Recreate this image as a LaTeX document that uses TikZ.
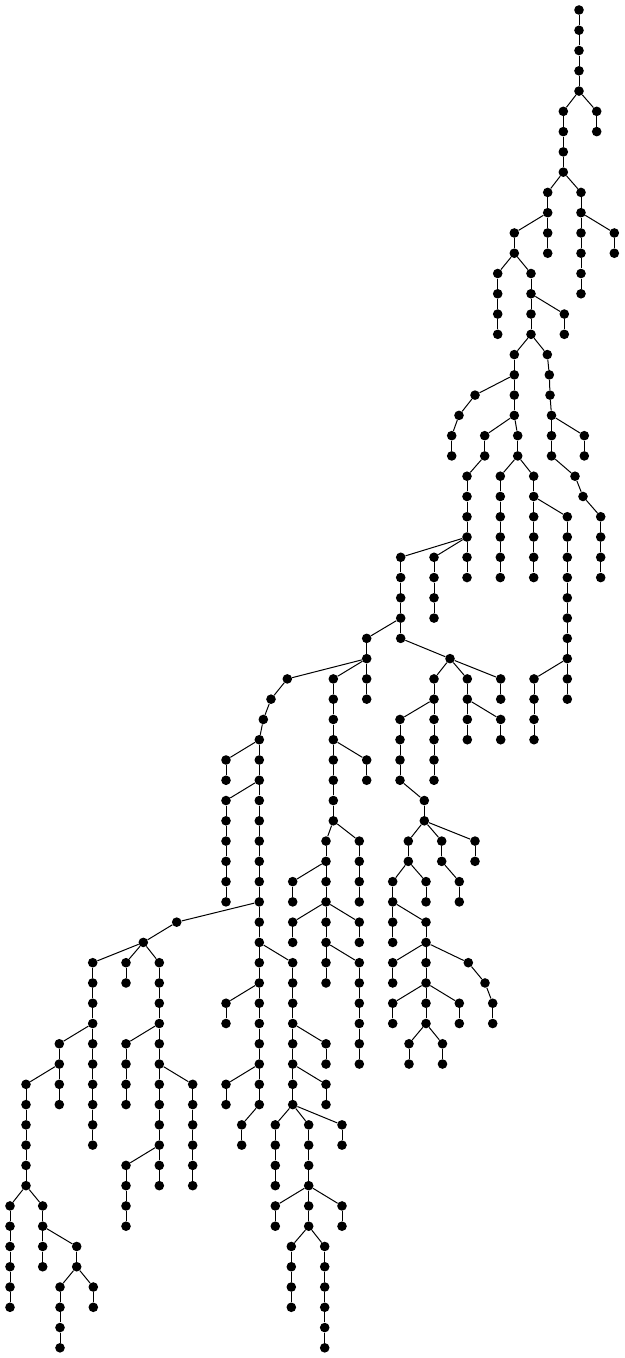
\documentclass[tikz,border=0pt]{standalone}
\newcommand\chn[4]{%
  \foreach \lv in {#3,...,#4}{\node[dot] (#1-\lv) at (#2,\lv) {};}%
  \foreach \lv in {#3,...,#4}{\ifnum\lv>#3\relax\pgfmathtruncatemacro\pv{\lv-1}\draw[edge] (#1-\pv) -- (#1-\lv);\fi}%
}
\begin{document}
\begin{tikzpicture}[x=0.75pt,y=-15.2025pt,
  dot/.style={circle,fill=black,draw=none,inner sep=0pt,minimum size=7.2pt},
  edge/.style={draw=black,line width=0.75pt}]
\useasboundingbox (0,-0.49334) rectangle (624,66.5022);
\chn{c1}{579}{0}{4}
\chn{c2}{563.3}{5}{8}
\chn{c3}{596.7}{5}{6}
\chn{c4}{547.7}{9}{12}
\chn{c5}{581}{9}{14}
\chn{c6}{614.3}{11}{12}
\chn{c7}{514.3}{11}{12}
\chn{c8}{497.7}{13}{16}
\chn{c9}{531}{13}{16}
\chn{c10}{564.3}{15}{16}
\chn{c11}{514.3}{17}{20}
\chn{c12}{475}{19}{19}
\chn{c13}{459}{20}{20}
\chn{c14}{451.7}{21}{22}
\chn{c15}{484.7}{21}{22}
\chn{c16}{517.7}{21}{22}
\chn{c17}{547.3}{17}{17}
\chn{c17b}{549.3}{18}{18}
\chn{c17c}{550}{19}{19}
\chn{c17d}{551.5}{20}{22}
\chn{c18}{584.3}{21}{22}
\chn{c19}{575}{23}{23}
\chn{c20}{583}{24}{24}
\chn{c21}{600.7}{25}{28}
\chn{c22}{467}{23}{26}
\chn{c23}{500.3}{23}{28}
\chn{c24}{533.7}{23}{28}
\chn{c25}{567.3}{25}{34}
\chn{c26}{534}{33}{36}
\chn{c27}{400.7}{27}{31}
\chn{c28}{434}{27}{30}
\chn{c29}{467}{27}{28}
\chn{c30}{366.7}{31}{32}
\chn{c31}{450}{32}{32}
\chn{c32}{287.3}{33}{33}
\chn{c33}{333.3}{33}{40}
\chn{c34}{366.7}{33}{34}
\chn{c35}{271}{34}{34}
\chn{c36}{263.3}{35}{35}
\chn{c37}{259.3}{36}{54}
\chn{c38}{226}{37}{38}
\chn{c39}{226}{39}{44}
\chn{c40}{366.7}{37}{38}
\chn{c41}{326}{41}{48}
\chn{c42}{359.3}{41}{44}
\chn{c43}{292.7}{43}{44}
\chn{c44}{292.7}{45}{46}
\chn{c45}{359.3}{45}{46}
\chn{c46}{359.3}{47}{52}
\chn{c47}{292.7}{47}{54}
\chn{c48}{326}{51}{52}
\chn{c49}{326}{53}{54}
\chn{c50}{226}{49}{50}
\chn{c51}{226}{53}{54}
\chn{c52}{241.7}{55}{56}
\chn{c53}{275.3}{55}{58}
\chn{c54}{308.7}{55}{60}
\chn{c55}{342}{55}{56}
\chn{c56}{275.3}{59}{60}
\chn{c57}{342}{59}{60}
\chn{c58}{291.3}{61}{64}
\chn{c59}{324.7}{61}{66}
\chn{c60}{176.7}{45}{45}
\chn{c61}{143.3}{46}{46}
\chn{c62}{92.7}{47}{56}
\chn{c63}{126}{47}{48}
\chn{c64}{159.3}{47}{58}
\chn{c65}{59.3}{51}{54}
\chn{c66}{26}{53}{58}
\chn{c67}{10}{59}{64}
\chn{c68}{42.7}{59}{62}
\chn{c69}{76.7}{61}{62}
\chn{c70}{60}{63}{66}
\chn{c71}{93.3}{63}{64}
\chn{c72}{126}{51}{54}
\chn{c73}{192.7}{53}{58}
\chn{c74}{126}{57}{60}
\chn{c75}{434}{33}{38}
\chn{c76}{467.3}{33}{36}
\chn{c77}{500.7}{33}{34}
\chn{c78}{400}{35}{38}
\chn{c79}{500.7}{35}{36}
\chn{c80}{424.3}{39}{40}
\chn{c81}{408.3}{41}{42}
\chn{c82}{441.7}{41}{42}
\chn{c83}{475}{41}{42}
\chn{c84}{392.7}{43}{46}
\chn{c85}{426}{43}{44}
\chn{c86}{459.3}{43}{44}
\chn{c87}{426}{45}{50}
\chn{c88}{392.7}{47}{48}
\chn{c89}{468.3}{47}{47}
\chn{c90}{485}{48}{48}
\chn{c91}{492.7}{49}{50}
\chn{c92}{392.7}{49}{50}
\chn{c93}{459.3}{49}{50}
\chn{c94}{409}{51}{52}
\chn{c95}{442.5}{51}{52}
\foreach \pa/\ch in {c1-4/c2-5, c1-4/c3-5, c2-8/c4-9, c2-8/c5-9, c5-10/c6-11,
  c4-10/c7-11, c7-12/c8-13, c7-12/c9-13, c9-14/c10-15, c9-16/c11-17,
  c11-18/c12-19, c12-19/c13-20, c13-20/c14-21, c11-20/c15-21, c11-20/c16-21,
  c9-16/c17-17, c17-17/c17b-18, c17b-18/c17c-19, c17c-19/c17d-20,
  c17d-20/c18-21, c17d-22/c19-23, c19-23/c20-24, c20-24/c21-25,
  c15-22/c22-23, c16-22/c23-23, c16-22/c24-23, c24-24/c25-25, c25-32/c26-33,
  c22-26/c27-27, c22-26/c28-27, c22-26/c29-27, c27-30/c30-31, c27-31/c31-32,
  c30-32/c32-33, c30-32/c33-33, c30-32/c34-33, c32-33/c35-34, c35-34/c36-35,
  c36-35/c37-36, c37-36/c38-37, c37-38/c39-39, c33-36/c40-37, c33-40/c41-41,
  c33-40/c42-41, c41-42/c43-43, c41-44/c44-45, c41-44/c45-45, c41-46/c46-47,
  c37-46/c47-47, c47-50/c48-51, c47-52/c49-53, c37-48/c50-49, c37-52/c51-53,
  c37-54/c52-55, c47-54/c53-55, c47-54/c54-55, c47-54/c55-55, c54-58/c56-59,
  c54-58/c57-59, c54-60/c58-61, c54-60/c59-61, c37-44/c60-45, c60-45/c61-46,
  c61-46/c62-47, c61-46/c63-47, c61-46/c64-47, c62-50/c65-51, c65-52/c66-53,
  c66-58/c67-59, c66-58/c68-59, c68-60/c69-61, c69-62/c70-63, c69-62/c71-63,
  c64-50/c72-51, c64-52/c73-53, c64-56/c74-57, c31-32/c75-33, c31-32/c76-33,
  c31-32/c77-33, c75-34/c78-35, c76-34/c79-35, c78-38/c80-39, c80-40/c81-41,
  c80-40/c82-41, c80-40/c83-41, c81-42/c84-43, c81-42/c85-43, c82-42/c86-43,
  c84-44/c87-45, c87-46/c88-47, c87-46/c89-47, c89-47/c90-48, c90-48/c91-49,
  c87-48/c92-49, c87-48/c93-49, c87-50/c94-51, c87-50/c95-51}
  {\draw[edge] (\pa) -- (\ch);}
\end{tikzpicture}
\end{document}
